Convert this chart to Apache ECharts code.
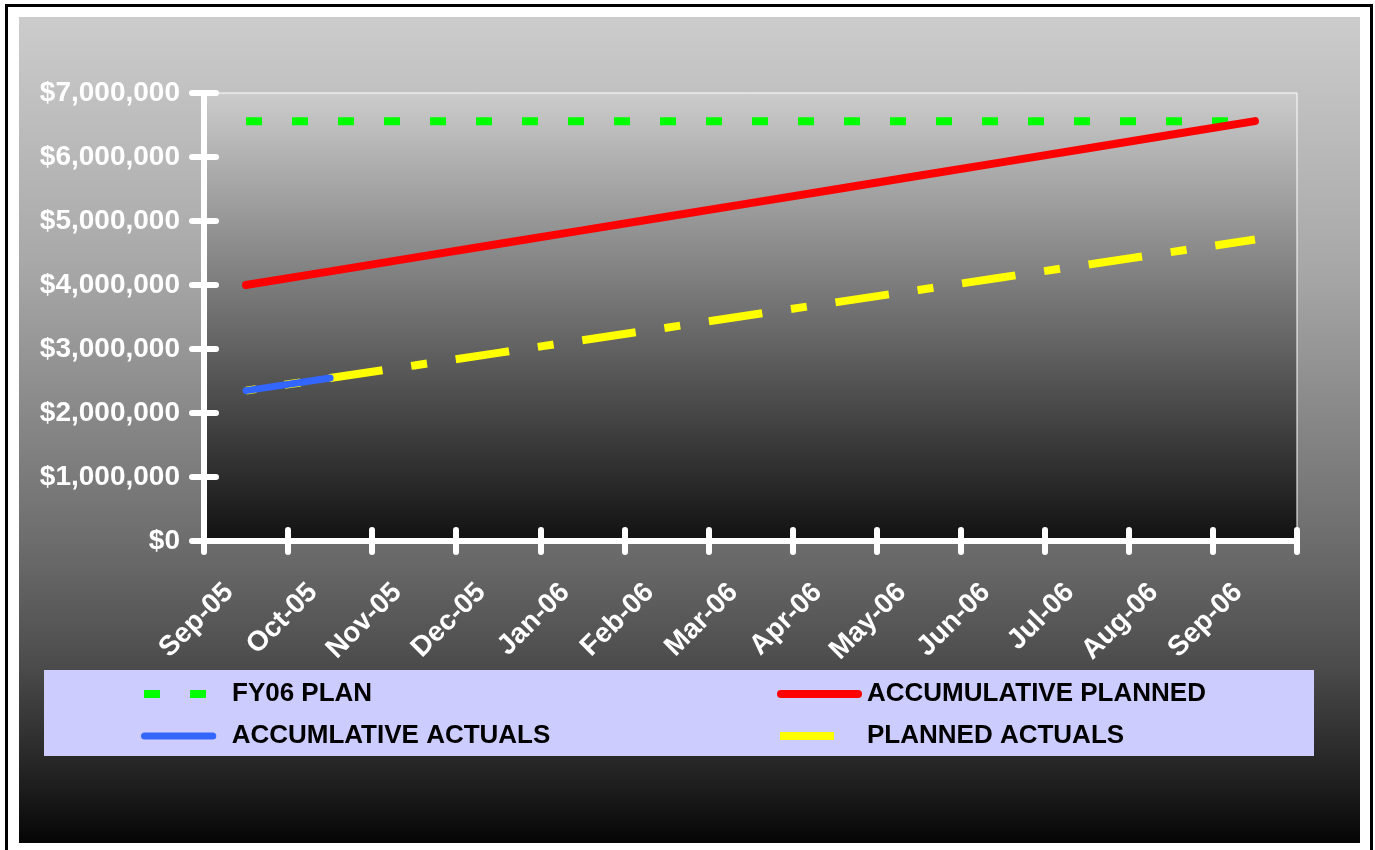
<!DOCTYPE html>
<html>
<head>
<meta charset="utf-8">
<script src="https://cdn.jsdelivr.net/npm/echarts@6/dist/echarts.min.js"></script>
<style>
html,body{margin:0;padding:0;background:#fff;}
#chart{width:1375px;height:850px;}
</style>
</head>
<body>
<div id="chart"></div>
<script>
const months = ['Sep-05','Oct-05','Nov-05','Dec-05','Jan-06','Feb-06','Mar-06','Apr-06','May-06','Jun-06','Jul-06','Aug-06','Sep-06'];
const fy06Plan = [6560000,6560000,6560000,6560000,6560000,6560000,6560000,6560000,6560000,6560000,6560000,6560000,6560000];
const accumulativePlanned = [4000000,4213000,4427000,4640000,4853000,5067000,5280000,5493000,5707000,5920000,6133000,6347000,6560000];
const plannedActuals = [2350000,2547000,2743000,2940000,3137000,3333000,3530000,3727000,3923000,4120000,4317000,4513000,4710000];
const accumulativeActuals = [2350000,2547000,null,null,null,null,null,null,null,null,null,null,null];
const seriesNames = ['FY06 PLAN','ACCUMULATIVE PLANNED','ACCUMLATIVE ACTUALS','PLANNED ACTUALS'];

const chart = echarts.init(document.getElementById('chart'));
const FONT = 'Liberation Sans, Arial, sans-serif';
function legendText(padLeft){
  return {color:'#000', fontFamily:FONT, fontWeight:'bold', fontSize:26, lineHeight:28, padding:[0,0,0,padLeft]};
}
const roundBar = 'path://M4,0H82A4,4,0,0,1,82,8H4A4,4,0,0,1,4,0Z';

const option = {
  backgroundColor:'#ffffff',
  animation:false,
  graphic:[
    {type:'rect', z:-20, silent:true, shape:{x:6.5,y:5.5,width:1365,height:900},
     style:{fill:'#ffffff', stroke:'#000000', lineWidth:3}},
    {type:'rect', z:-19, silent:true, shape:{x:19,y:17,width:1341,height:826},
     style:{fill:new echarts.graphic.LinearGradient(0,0,0,1,[
       {offset:0,color:'#cccccc'},{offset:0.3,color:'#a8a8a8'},{offset:0.63,color:'#6e6e6e'},
       {offset:0.78,color:'#4d4d4d'},{offset:0.93,color:'#1e1e1e'},{offset:1,color:'#050505'}])}},
    {type:'rect', z:-18, silent:true, shape:{x:44,y:670,width:1270,height:86},
     style:{fill:'#ccccff'}}
  ],
  grid:{left:204,right:78,top:93,bottom:309,show:true,borderColor:'#ffffff',borderWidth:1,
    backgroundColor:new echarts.graphic.LinearGradient(0,0,0,1,[
      {offset:0,color:'#cccccc'},{offset:1,color:'#111111'}])},
  legend:[
    {data:[seriesNames[0]], left:144, top:680, padding:0, itemWidth:62, itemHeight:8,
     icon:'path://M0,0h16v8h-16z M46,0h16v8h-16z', textStyle:legendText(21)},
    {data:[seriesNames[1]], left:777, top:680, padding:0, itemWidth:85, itemHeight:8,
     icon:roundBar, textStyle:legendText(0)},
    {data:[seriesNames[2]], left:141, top:722, padding:0, itemWidth:86, itemHeight:7,
     icon:roundBar, textStyle:legendText(5)},
    {data:[seriesNames[3]], left:780, top:722, padding:0, itemWidth:54, itemHeight:8,
     icon:'rect', textStyle:legendText(28)}
  ],
  xAxis:[
    {type:'category', data:months, boundaryGap:true,
     axisLine:{lineStyle:{color:'#ffffff',width:6,cap:'round'}},
     axisTick:{show:true,inside:false,length:11,interval:0,lineStyle:{color:'#ffffff',width:6,cap:'round'}},
     axisLabel:{interval:0,rotate:45,margin:30,padding:[0,24,0,0],color:'#ffffff',fontFamily:FONT,fontWeight:'bold',fontSize:28},
     splitLine:{show:false}},
    {type:'category', data:months, boundaryGap:true, position:'bottom',
     axisLine:{show:false},
     axisTick:{show:true,inside:true,length:11,interval:0,lineStyle:{color:'#ffffff',width:6,cap:'round'}},
     axisLabel:{show:false}, splitLine:{show:false}}
  ],
  yAxis:[
    {type:'value', min:0, max:7000000, interval:1000000,
     axisLine:{show:true,lineStyle:{color:'#ffffff',width:6,cap:'round'}},
     axisTick:{show:true,inside:false,length:12,lineStyle:{color:'#ffffff',width:6,cap:'round'}},
     axisLabel:{margin:24,color:'#ffffff',fontFamily:FONT,fontWeight:'bold',fontSize:28,
       formatter:v=>'$'+v.toLocaleString('en-US')},
     splitLine:{show:false}},
    {type:'value', min:0, max:7000000, interval:1000000, position:'left',
     axisLine:{show:false},
     axisTick:{show:true,inside:true,length:12,lineStyle:{color:'#ffffff',width:6,cap:'round'}},
     axisLabel:{show:false}, splitLine:{show:false}}
  ],
  series:[
    {name:seriesNames[0], type:'line', data:fy06Plan, symbol:'none', z:2,
     lineStyle:{color:'#00ff00',width:8,type:[16,30],cap:'butt'}, itemStyle:{color:'#00ff00'}},
    {name:seriesNames[1], type:'line', data:accumulativePlanned, symbol:'none', z:3,
     lineStyle:{color:'#ff0000',width:8,cap:'round'}, itemStyle:{color:'#ff0000'}},
    {name:seriesNames[3], type:'line', data:plannedActuals, symbol:'none', z:3,
     lineStyle:{color:'#ffff00',width:8,type:[54,29,16,29],dashOffset:44,cap:'butt'}, itemStyle:{color:'#ffff00'}},
    {name:seriesNames[2], type:'line', data:accumulativeActuals, symbol:'none', z:5,
     lineStyle:{color:'#3366ff',width:7,cap:'round'}, itemStyle:{color:'#3366ff'}}
  ]
};
chart.setOption(option);
</script>
</body>
</html>
